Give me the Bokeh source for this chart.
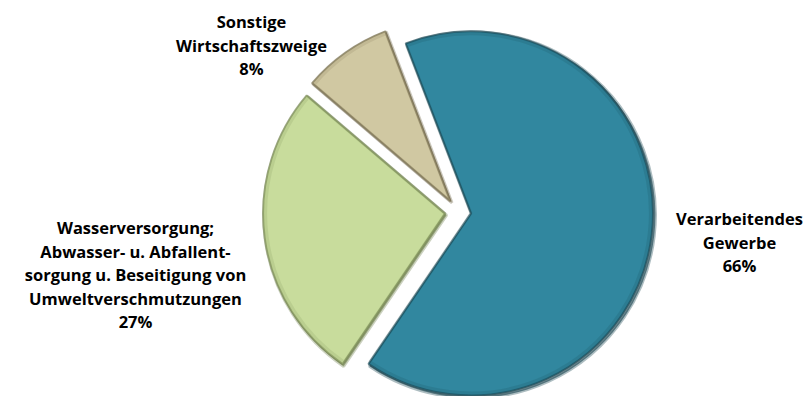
import math
from bokeh.plotting import figure
from bokeh.models import Range1d, ColumnDataSource
from bokeh.core.properties import value
from bokeh.embed import file_html
from bokeh.resources import INLINE

# ---- data ----
categories = [
    "Verarbeitendes\nGewerbe",
    "Wasserversorgung;\nAbwasser- u. Abfallent-\nsorgung u. Beseitigung von\nUmweltverschmutzungen",
    "Sonstige\nWirtschaftszweige",
]
percent = [66, 27, 8]
colors = ["#31879F", "#C8DC9C", "#D0C8A2"]
shadow_colors = ["#15414D", "#6E7E4A", "#6F6848"]

# ---- layout (screen pixels, y measured from top) ----
W, H = 805, 396
cx, cy_top = 457.5, 211.4
R = 182.0
explode = 13.0
first_angle = -21.0          # degrees clockwise from 12 o'clock
label_pos = [(739, 241.5), (135, 274), (251, 44.5)]
line_step = 23.5

p = figure(width=W, height=H, output_backend="svg", toolbar_location=None,
           x_range=Range1d(0, W), y_range=Range1d(0, H),
           min_border=0, outline_line_color=None)
p.axis.visible = False
p.grid.visible = False
p.background_fill_color = "white"
p.border_fill_color = "white"

total = float(sum(percent))
cy = H - cy_top
theta = first_angle
xs, ys, starts, ends = [], [], [], []
for v in percent:
    span = 360.0 * v / total
    t1, t2 = theta, theta + span
    mid = math.radians((t1 + t2) / 2)
    xs.append(cx + explode * math.sin(mid))
    ys.append(cy + explode * math.cos(mid))
    starts.append(math.radians(90 - t2))
    ends.append(math.radians(90 - t1))
    theta = t2

src = ColumnDataSource(dict(x=xs, y=ys, start=starts, end=ends, color=colors,
                            shadow=shadow_colors))
shadow_src = ColumnDataSource(dict(x=[x + 1.5 for x in xs], y=[y - 1.5 for y in ys],
                                   start=starts, end=ends, shadow=shadow_colors))

# soft shadow / bevel imitation
p.wedge(x="x", y="y", radius=R + 1, start_angle="start", end_angle="end",
        source=shadow_src, fill_color="shadow", fill_alpha=0.6,
        line_color="shadow", line_alpha=0.35, line_width=3)
p.wedge(x="x", y="y", radius=R, start_angle="start", end_angle="end",
        source=src, fill_color="color", line_color="shadow",
        line_alpha=0.6, line_width=2)
p.wedge(x="x", y="y", radius=R - 2.5, start_angle="start", end_angle="end",
        source=src, fill_color=None, line_color="shadow",
        line_alpha=0.15, line_width=3)

# labels, one text item per line
tx, ty, tt = [], [], []
for (lx, ly), c, v in zip(label_pos, categories, percent):
    lines = c.split("\n") + [f"{v}%"]
    n = len(lines)
    for i, s in enumerate(lines):
        tx.append(lx)
        ty.append(H - (ly + (i - (n - 1) / 2) * line_step))
        tt.append(s)
lsrc = ColumnDataSource(dict(x=tx, y=ty, text=tt))
p.text(x="x", y="y", text="text", source=lsrc, text_align="center",
       text_baseline="middle", text_font=value("Open Sans"), text_font_style="bold",
       text_font_size="16.5px", text_color="#000000")

open("out.html", "w").write(file_html(p, INLINE))
